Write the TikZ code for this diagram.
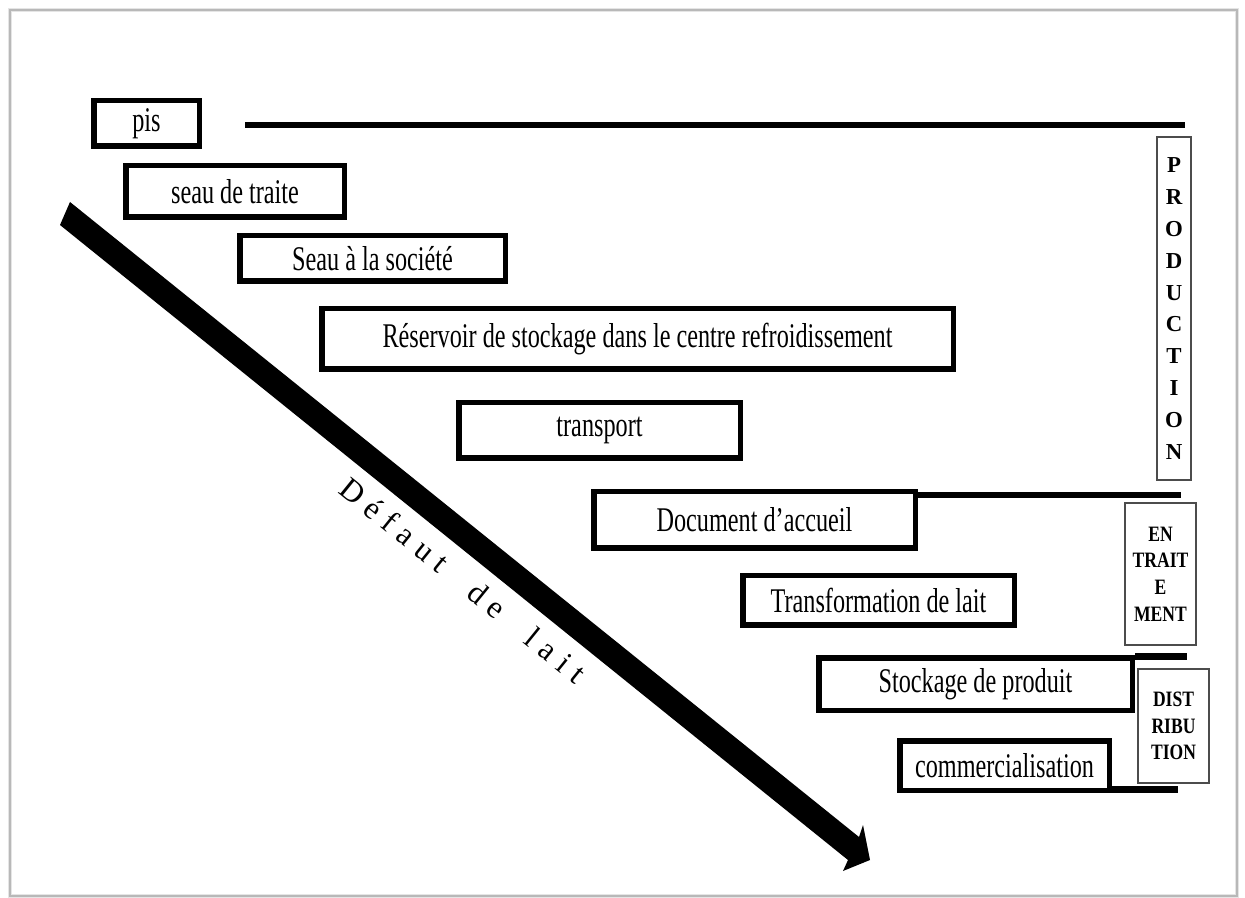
\documentclass[tikz,border=0pt]{standalone}
\usepackage{fontspec}
\setmainfont{Liberation Serif}
\usepackage{graphicx}
\newdimen\px \px=0.02cm
\newcommand{\cnd}[1]{\scalebox{0.7}[1]{#1}}
\newcommand{\cnr}[1]{\scalebox{0.8}[1]{#1}}
\newcommand{\lsp}{\hspace{5pt}}
\newcommand{\wsp}{\hspace{20pt}}
\tikzset{
  mbox/.style={draw=black, line width=5.5\px, inner sep=0pt, fill=white,
    font=\fontsize{19.7}{22}\selectfont},
  sbox/.style={draw=black!70, line width=1.3\px, inner sep=0pt, align=center,
    font=\bfseries\fontsize{12.5}{15.2}\selectfont},
  hline/.style={draw=black, line width=6.5\px, line cap=butt},
}
\begin{document}
\begin{tikzpicture}[x=0.02cm,y=-0.02cm]
\fill[white] (0,0) rectangle (1245,898);
\useasboundingbox (0,0) rectangle (1245,898);
% page frame
\draw[black!10, line width=4\px] (10,10) rectangle (1237,896);
\draw[black!28, line width=1.2\px] (10,10) rectangle (1237,896);

% main boxes
\node[mbox, minimum width=105.5\px, minimum height=45.5\px] (pis) at (146.5,123.5) {\cnd{pis}};
\node[mbox, minimum width=218.5\px, minimum height=51.5\px] (seau) at (235,191.5) {\cnd{seau de traite}};
\node[mbox, minimum width=265.5\px, minimum height=45.5\px] (soc) at (372.5,258.5) {\cnd{Seau à la société}};
\node[mbox, minimum width=631.5\px, minimum height=60.5\px] (res) at (637.5,339) {\cnd{Réservoir de stockage dans le centre refroidissement}};
\node[mbox, minimum width=281.5\px, minimum height=55.5\px] (trans) at (599.5,430.5) {\cnd{transport}};
\node[mbox, minimum width=321.5\px, minimum height=56.5\px] (doc) at (754.5,520) {\cnd{Document d’accueil}};
\node[mbox, minimum width=271.5\px, minimum height=49.5\px] (transf) at (878.5,600.5) {\cnd{Transformation de lait}};
\node[mbox, minimum width=313.5\px, minimum height=52.5\px] (stock) at (975.5,684) {\cnd{Stockage de produit}};
\node[mbox, minimum width=209.5\px, minimum height=49.5\px] (comm) at (1004.5,765.5) {\cnd{commercialisation}};

% horizontal separators
\coordinate (l1s) at (245,125);
\coordinate (l1e) at (1185,125);
\draw[hline] (l1s) -- (l1e);
\coordinate (l2e) at (1181,495);
\draw[hline] (doc.east |- l2e) -- (l2e);
\coordinate (l3e) at (1187,656.5);
\draw[hline] (stock.east |- l3e) -- (l3e);
\coordinate (l4e) at (1178,789.5);
\draw[hline] (comm.east |- l4e) -- (l4e);

% side labels
\node[sbox, minimum width=34\px, minimum height=343\px,
  font=\bfseries\fontsize{13}{18.1}\selectfont] (prod) at (1174,308.5)
  {P\\R\\O\\D\\U\\C\\T\\I\\O\\N};
\node[sbox, minimum width=71\px, minimum height=142\px] (trait) at (1160.5,574)
  {\cnr{EN}\\\cnr{TRAIT}\\\cnr{E}\\\cnr{MENT}};
\node[sbox, minimum width=71\px, minimum height=114\px] (dist) at (1173.5,726)
  {\cnr{DIST}\\\cnr{RIBU}\\\cnr{TION}};

% big diagonal arrow
\fill[black] (70,202) -- (859,837) -- (863,825) -- (870,860) -- (843,871)
  -- (848,860) -- (60,225) -- cycle;
\node[rotate=-39, inner sep=0pt, font=\fontsize{18}{18}\selectfont] (lbl) at (463,580)
  {D\lsp é\lsp f\lsp a\lsp u\lsp t\wsp d\lsp e\wsp l\lsp a\lsp i\lsp t};
\end{tikzpicture}
\end{document}
